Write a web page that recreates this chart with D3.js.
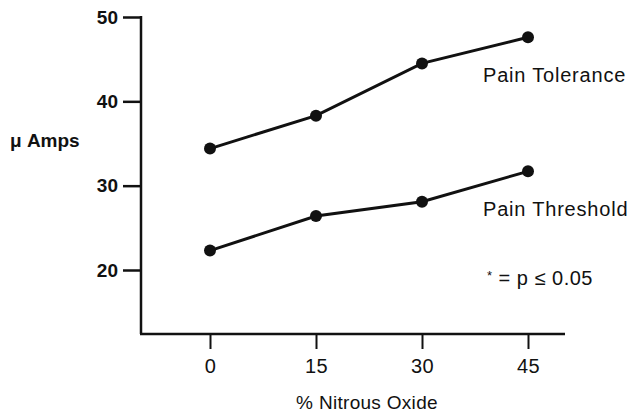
<!DOCTYPE html>
<html lang="en">
<head>
    <meta charset="UTF-8">
    <title>Pain Tolerance and Threshold vs Nitrous Oxide</title>
    <script src="https://d3js.org/d3.v7.min.js"></script>
    <style>
        body { margin: 0; background: #fff; }
        svg text { font-family: 'Liberation Sans', Arial, sans-serif; fill: #111; }
        .ytick text { font-size: 19px; font-weight: bold; }
        .xtick text { font-size: 20px; }
    </style>
</head>
<body>
<div id="chart"></div>
<script>
    // data
    const nitrousPct = [0, 15, 30, 45];
    const painTolerance = [34.4, 38.3, 44.5, 47.6];
    const painThreshold = [22.3, 26.4, 28.1, 31.7];
    const yTicks = [20, 30, 40, 50];
    const seriesLabels = ["Pain Tolerance", "Pain Threshold"];

    const W = 628, H = 414;
    const svg = d3.select("#chart").append("svg")
        .attr("width", W).attr("height", H);

    const x = d3.scaleLinear().domain([0, 45]).range([210, 528]);
    const y = d3.scaleLinear().domain([20, 50]).range([270, 17]);

    const axisLeftX = 141, axisBottomY = 334;

    // y axis
    const yAxis = svg.append("g")
        .attr("class", "ytick")
        .attr("transform", `translate(${axisLeftX},0)`)
        .call(d3.axisLeft(y).tickValues(yTicks).tickSize(18).tickPadding(5));
    yAxis.select(".domain").remove();
    yAxis.selectAll("line").attr("stroke", "#111").attr("stroke-width", 2.5);

    svg.append("line")
        .attr("x1", axisLeftX).attr("x2", axisLeftX)
        .attr("y1", y(50) - 1).attr("y2", axisBottomY)
        .attr("stroke", "#111").attr("stroke-width", 2.5);

    // x axis
    const xAxis = svg.append("g")
        .attr("class", "xtick")
        .attr("transform", `translate(0,${axisBottomY})`)
        .call(d3.axisBottom(x).tickValues(nitrousPct).tickSize(15).tickPadding(10));
    xAxis.select(".domain").remove();
    xAxis.selectAll("line").attr("stroke", "#111").attr("stroke-width", 2);
    xAxis.selectAll("text").attr("letter-spacing", 0.5);

    svg.append("line")
        .attr("x1", axisLeftX - 1).attr("x2", 565)
        .attr("y1", axisBottomY).attr("y2", axisBottomY)
        .attr("stroke", "#111").attr("stroke-width", 2.5);

    // series lines + markers
    const line = d3.line().x((d, i) => x(nitrousPct[i])).y(d => y(d));
    [painTolerance, painThreshold].forEach(vals => {
        svg.append("path")
            .attr("d", line(vals))
            .attr("fill", "none")
            .attr("stroke", "#111")
            .attr("stroke-width", 3);
        svg.selectAll(null).data(vals).join("circle")
            .attr("cx", (d, i) => x(nitrousPct[i]))
            .attr("cy", d => y(d))
            .attr("r", 6)
            .attr("fill", "#111");
    });

    // labels
    svg.append("text").attr("x", 483).attr("y", 82)
        .attr("font-size", 20).attr("letter-spacing", 0.8).text(seriesLabels[0]);
    svg.append("text").attr("x", 483).attr("y", 216)
        .attr("font-size", 20).attr("letter-spacing", 0.8).text(seriesLabels[1]);

    const sig = svg.append("text").attr("x", 487).attr("y", 285)
        .attr("font-size", 20).attr("letter-spacing", 0.5);
    sig.append("tspan").attr("font-size", 13).attr("dy", -5).text("*");
    sig.append("tspan").attr("dy", 5).text(" = p \u2264 0.05");

    svg.append("text").attr("x", 10).attr("y", 147)
        .attr("font-size", 19).attr("font-weight", "bold").text("\u03bc Amps");

    svg.append("text").attr("x", 367).attr("y", 409)
        .attr("text-anchor", "middle").attr("letter-spacing", 0.3)
        .attr("font-size", 19).text("% Nitrous Oxide");
</script>
</body>
</html>
